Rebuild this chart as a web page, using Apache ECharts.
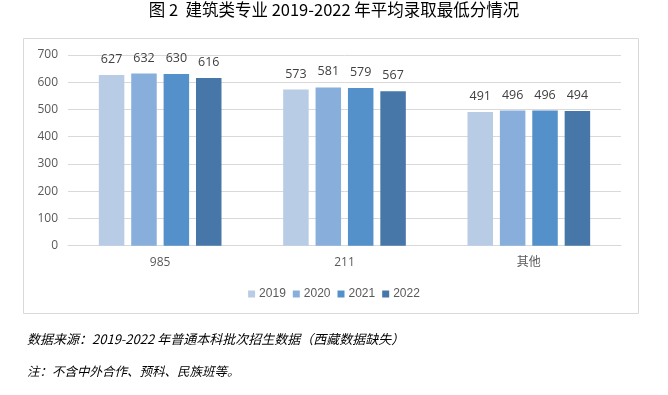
<!DOCTYPE html>
<html><head><meta charset="utf-8">
<script src="https://cdn.jsdelivr.net/npm/echarts@6/dist/echarts.min.js"></script>
<style>html,body{margin:0;padding:0;background:#fff}#c{width:668px;height:395px}</style>
</head><body><div id="c"></div>
<script>
const categories = ['985', '211', '其他'];
const seriesNames = ['2019', '2020', '2021', '2022'];
const v2019 = [627, 573, 491];
const v2020 = [632, 581, 496];
const v2021 = [630, 579, 496];
const v2022 = [616, 567, 494];
const colors = ['#B8CCE6', '#88AEDB', '#5490C9', '#4677A8'];
const titleText = '图 2  建筑类专业 2019-2022 年平均录取最低分情况';
const note1 = '数据来源：2019-2022 年普通本科批次招生数据（西藏数据缺失）';
const note2 = '注：不含中外合作、预科、民族班等。';

const chart = echarts.init(document.getElementById('c'));
const vals = [v2019, v2020, v2021, v2022];
const numFont = '"Open Sans", "Noto Sans", sans-serif';
chart.setOption({
  animation: false,
  color: colors,
  grid: {left: 68, right: 47, top: 55, bottom: 149.3},
  legend: {
    data: seriesNames, bottom: 90, left: 'center',
    itemWidth: 7, itemHeight: 7, itemGap: 7, icon: 'rect',
    textStyle: {color: '#595959', fontSize: 12, padding: [0, 0, 0, -1], fontFamily: '"Liberation Sans", sans-serif'}
  },
  xAxis: {
    type: 'category', data: categories,
    axisLine: {lineStyle: {color: '#D9D9D9'}},
    axisTick: {show: false},
    axisLabel: {color: '#595959', fontSize: 12, margin: 11, fontFamily: '"Open Sans", "Noto Sans CJK SC", sans-serif'}
  },
  yAxis: {
    type: 'value', min: 0, max: 700, interval: 100,
    axisLine: {show: false}, axisTick: {show: false},
    splitLine: {lineStyle: {color: '#D9D9D9'}},
    axisLabel: {color: '#595959', fontSize: 12, margin: 10, fontFamily: numFont}
  },
  series: seriesNames.map((n, i) => ({
    name: n, type: 'bar', data: vals[i],
    barWidth: 25.5, barGap: '27%',
    label: {show: true, position: 'top', distance: 9, color: '#404040', fontSize: 12.5, fontFamily: numFont}
  })),
  graphic: [
    {type: 'rect', shape: {x: 23.5, y: 38.5, width: 615, height: 275}, style: {fill: null, stroke: '#D9D9D9', lineWidth: 1}, z: -1},
    {type: 'text', left: 'center', top: 1, style: {text: titleText, fontSize: 16.5, fill: '#000', fontFamily: '"Noto Sans CJK SC", sans-serif'}},
    {type: 'text', left: 27, top: 333, style: {text: note1, fontSize: 13, fill: '#000', fontStyle: 'italic', fontFamily: '"Noto Sans CJK SC", sans-serif'}},
    {type: 'text', left: 27, top: 365, style: {text: note2, fontSize: 12.5, fill: '#000', fontStyle: 'italic', fontFamily: '"Noto Sans CJK SC", sans-serif'}}
  ]
});
</script></body></html>
